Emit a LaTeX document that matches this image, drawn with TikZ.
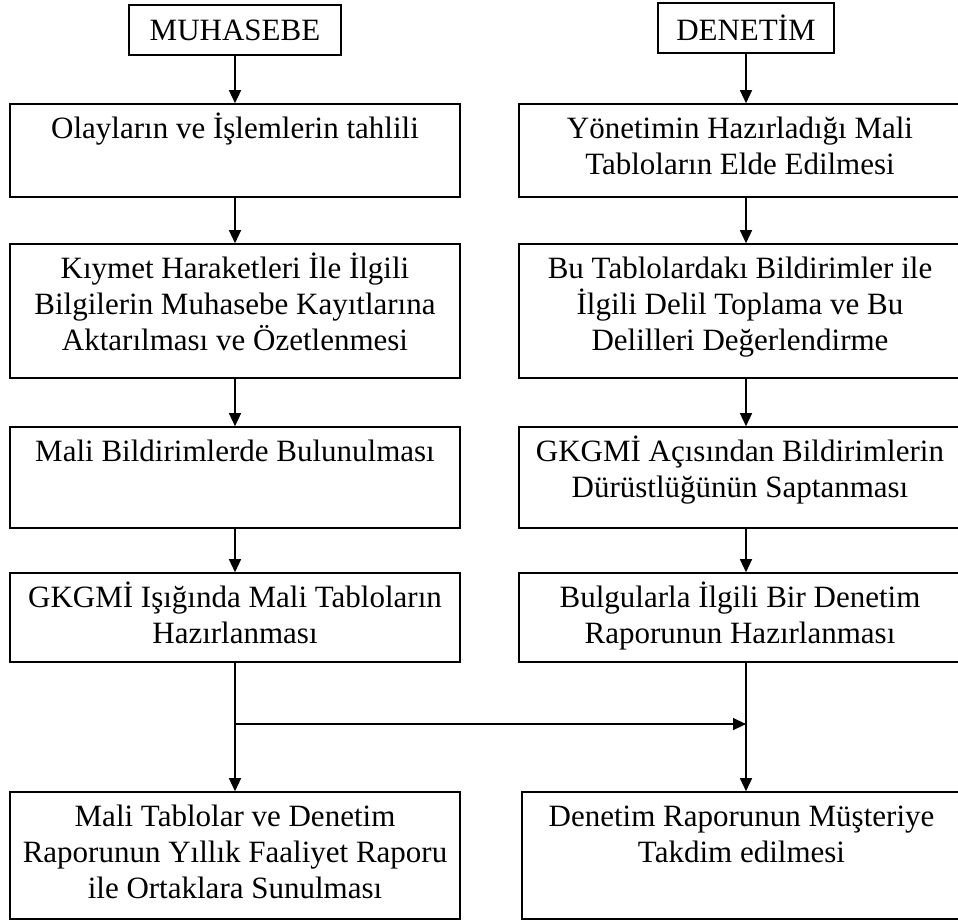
\documentclass[tikz,border=0pt]{standalone}
\usepackage{fontspec}
\setmainfont{Liberation Serif}
\usetikzlibrary{arrows.meta,positioning,calc}

% kutu içi yazı: [sağ boşluk] yükseklik, genişlik, metin (üste yaslı)
\newcommand{\kutuyazi}[4][0pt]{\parbox[c][#2][t]{#3}{\centering\rightskip=#1 plus 1fil\rule{0pt}{34pt}#4}}

\begin{document}
\begin{tikzpicture}[
    x=1pt, y=-1pt,
    >={Triangle[length=13pt,width=12pt]},
    every node/.style={font=\fontsize{31}{36}\selectfont},
    baslik/.style={draw, line width=1.6pt, minimum height=50pt, inner sep=0pt},
    kutu/.style={draw, line width=1.6pt, inner sep=0pt},
    ok/.style={->, line width=1.3pt}
]
    \useasboundingbox (0,0) rectangle (958,922);

    % --- 1. Başlıklar ---
    \node[baslik, minimum width=212pt] (muh) at (235,30) {MUHASEBE};
    \node[baslik, minimum width=176pt] (den) at (746,28) {DENETİM};

    % --- 2. Sol sütun (Muhasebe) ---
    \node[kutu] (l1) at (235,150.5) {\kutuyazi{93pt}{450pt}{Olayların ve İşlemlerin tahlili}};
    \node[kutu] (l2) at (235,311) {\kutuyazi{134pt}{450pt}{Kıymet Haraketleri İle İlgili\\Bilgilerin Muhasebe Kayıtlarına\\Aktarılması ve Özetlenmesi}};
    \node[kutu] (l3) at (235,477.5) {\kutuyazi{101pt}{450pt}{Mali Bildirimlerde Bulunulması}};
    \node[kutu] (l4) at (235,617.5) {\kutuyazi{89pt}{450pt}{GKGMİ Işığında Mali Tabloların\\Hazırlanması}};
    \node[kutu] (l5) at (235,855.5) {\kutuyazi{127pt}{450pt}{Mali Tablolar ve Denetim\\Raporunun Yıllık Faaliyet Raporu\\ile Ortaklara Sunulması}};

    % --- 3. Sağ sütun (Denetim) - sağ kenar resmin dışında kalıyor ---
    \node[kutu] (r1) at (747,150.5) {\kutuyazi[14pt]{93pt}{456pt}{Yönetimin Hazırladığı Mali\\Tabloların Elde Edilmesi}};
    \node[kutu] (r2) at (747,311) {\kutuyazi[14pt]{134pt}{456pt}{Bu Tablolardakı Bildirimler ile\\İlgili Delil Toplama ve Bu\\Delilleri Değerlendirme}};
    \node[kutu] (r3) at (747,477.5) {\kutuyazi[14pt]{101pt}{456pt}{GKGMİ Açısından Bildirimlerin\\Dürüstlüğünün Saptanması}};
    \node[kutu] (r4) at (747,617.5) {\kutuyazi[14pt]{89pt}{456pt}{Bulgularla İlgili Bir Denetim\\Raporunun Hazırlanması}};
    \node[kutu] (r5) at (748.5,855.5) {\kutuyazi[14pt]{127pt}{453pt}{Denetim Raporunun Müşteriye\\Takdim edilmesi}};

    % --- 4. Oklar ---
    \draw[ok] (muh) -- (l1);
    \draw[ok] (l1) -- (l2);
    \draw[ok] (l2) -- (l3);
    \draw[ok] (l3) -- (l4);
    \draw[ok] (l4) -- (l5);

    \draw[ok] (den) -- (den |- r1.north);
    \draw[ok] (r1.south -| den) -- (r2.north -| den);
    \draw[ok] (r2.south -| den) -- (r3.north -| den);
    \draw[ok] (r3.south -| den) -- (r4.north -| den);
    \draw[ok] (r4.south -| den) -- (r5.north -| den);

    % ara bağlantı (sol sütundan sağ sütuna)
    \coordinate (ayrim) at ($(l4.south)!0.477!(l5.north)$);
    \draw[ok] (ayrim) -- (ayrim -| den);

\end{tikzpicture}
\end{document}
